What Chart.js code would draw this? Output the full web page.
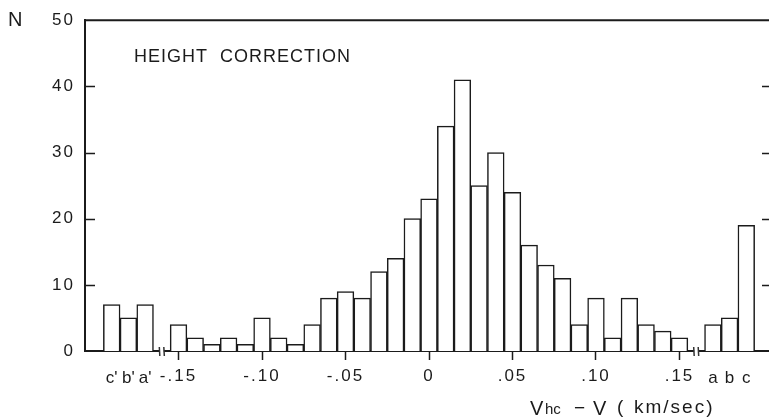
<!DOCTYPE html>
<html>
<head>
<meta charset="utf-8">
<script src="https://cdn.jsdelivr.net/npm/chart.js@4.4.1/dist/chart.umd.min.js"></script>
<style>
  html, body { margin: 0; padding: 0; background: #fff; overflow: hidden; }
</style>
</head>
<body>
<canvas id="chart" width="769" height="420"></canvas>
<script>
// Main histogram: bin centres in km/sec and counts
const binCenters = [-0.15, -0.14, -0.13, -0.12, -0.11, -0.10, -0.09, -0.08, -0.07, -0.06,
  -0.05, -0.04, -0.03, -0.02, -0.01, 0, 0.01, 0.02, 0.03, 0.04,
  0.05, 0.06, 0.07, 0.08, 0.09, 0.10, 0.11, 0.12, 0.13, 0.14, 0.15];
const binCounts = [4, 2, 1, 2, 1, 5, 2, 1, 4, 8,
  9, 8, 12, 14, 20, 23, 34, 41, 25, 30,
  24, 16, 13, 11, 4, 8, 2, 8, 4, 3, 2];

// Off-scale classes beyond the axis breaks
const lowGroupLabels = ["c'", "b'", "a'"];
const lowGroupPositions = [-0.19, -0.18, -0.17];
const lowGroupCounts = [7, 5, 7];
const highGroupLabels = ["a", "b", "c"];
const highGroupPositions = [0.17, 0.18, 0.19];
const highGroupCounts = [4, 5, 19];

const xTickValues = [-0.15, -0.10, -0.05, 0, 0.05, 0.10, 0.15];
const xTickLabels = ["-.15", "-.10", "-.05", "0", ".05", ".10", ".15"];
const yTickValues = [0, 10, 20, 30, 40, 50];

const ink = "#1b1b1b";
const fontFamily = '"Liberation Sans", Arial, sans-serif';

function toPoints(xs, ys) {
  return xs.map((x, i) => ({ x: x, y: ys[i] }));
}

const barData = [
  ...toPoints(lowGroupPositions, lowGroupCounts),
  ...toPoints(binCenters, binCounts),
  ...toPoints(highGroupPositions, highGroupCounts),
];

// Frame, inner ticks, axis breaks and free text
const decorations = {
  id: "decorations",
  beforeDraw(chart) {
    chart.ctx.letterSpacing = "2px";
  },
  afterDraw(chart) {
    const { ctx, chartArea, scales } = chart;
    const x = scales.x;
    const y = scales.y;
    ctx.save();
    ctx.strokeStyle = ink;
    ctx.fillStyle = ink;

    // top edge of the frame
    ctx.lineWidth = 2;
    ctx.beginPath();
    ctx.moveTo(chartArea.left, chartArea.top);
    ctx.lineTo(chartArea.right, chartArea.top);
    ctx.stroke();

    // ticks pointing into the plot on both sides
    ctx.lineWidth = 1.5;
    yTickValues.forEach(v => {
      if (v === y.min || v === y.max) return;
      const py = Math.round(y.getPixelForValue(v)) + 0.5;
      ctx.beginPath();
      ctx.moveTo(chartArea.left, py);
      ctx.lineTo(chartArea.left + 10, py);
      ctx.moveTo(chartArea.right, py);
      ctx.lineTo(chartArea.right - 7, py);
      ctx.stroke();
    });

    // axis breaks between the main bins and the lettered classes
    const base = y.getPixelForValue(0);
    const breaks = [
      (lowGroupPositions[lowGroupPositions.length - 1] + binCenters[0]) / 2,
      (binCenters[binCenters.length - 1] + highGroupPositions[0]) / 2,
    ];
    breaks.forEach(v => {
      const px = x.getPixelForValue(v);
      ctx.fillStyle = "#fff";
      ctx.fillRect(px - 2, base - 2, 4, 4);
      ctx.strokeStyle = "#333";
      ctx.lineWidth = 1.5;
      ctx.beginPath();
      ctx.moveTo(px - 2.5, base - 4);
      ctx.lineTo(px - 2, base + 5);
      ctx.moveTo(px + 2, base - 4);
      ctx.lineTo(px + 2.5, base + 5);
      ctx.stroke();
    });

    // class letters under the off-scale bars
    ctx.fillStyle = ink;
    ctx.letterSpacing = "0px";
    ctx.font = "17px " + fontFamily;
    ctx.textAlign = "center";
    ctx.textBaseline = "alphabetic";
    lowGroupLabels.forEach((l, i) => {
      ctx.fillText(l, x.getPixelForValue(lowGroupPositions[i]), 383);
    });
    highGroupLabels.forEach((l, i) => {
      ctx.fillText(l, x.getPixelForValue(highGroupPositions[i]), 383);
    });

    // y axis name
    ctx.textAlign = "left";
    ctx.font = "20px " + fontFamily;
    ctx.fillText("N", 8, 26);

    // panel title
    ctx.letterSpacing = "1px";
    ctx.font = "18px " + fontFamily;
    ctx.fillText("HEIGHT  CORRECTION", 134, 62);

    // x axis name with subscript
    ctx.font = "20px " + fontFamily;
    ctx.letterSpacing = "0px";
    ctx.fillText("V", 530, 415);
    ctx.font = "15px " + fontFamily;
    ctx.fillText("hc", 545, 414);
    ctx.font = "19px " + fontFamily;
    ctx.fillText("\u2212", 574, 414);
    ctx.font = "20px " + fontFamily;
    ctx.fillText("V", 593, 415);
    ctx.font = "19px " + fontFamily;
    ctx.fillText("(", 617, 413);
    ctx.letterSpacing = "2px";
    ctx.fillText("km/sec)", 634, 413);
    ctx.restore();
  },
};

new Chart(document.getElementById("chart"), {
  type: "bar",
  data: {
    datasets: [{
      data: barData,
      backgroundColor: "#fff",
      borderColor: ink,
      borderWidth: 1.5,
      borderSkipped: "bottom",
      categoryPercentage: 1,
      barPercentage: 1,
    }],
  },
  options: {
    responsive: false,
    animation: false,
    layout: { padding: { top: 14, left: 0, right: 0, bottom: 0 } },
    plugins: {
      legend: { display: false },
      tooltip: { enabled: false },
    },
    scales: {
      x: {
        type: "linear",
        offset: false,
        min: -0.206,
        max: 0.2036,
        afterBuildTicks: scale => {
          scale.ticks = xTickValues.map(v => ({ value: v }));
        },
        afterFit: scale => { scale.height = 69; },
        ticks: {
          autoSkip: false,
          maxRotation: 0,
          padding: 6,
          color: ink,
          font: { family: fontFamily, size: 17 },
          callback: v => xTickLabels[xTickValues.indexOf(v)],
        },
        grid: {
          offset: false,
          drawOnChartArea: false,
          tickLength: 9,
          tickColor: ink,
          tickWidth: 1.5,
        },
        border: { display: true, color: ink, width: 2 },
      },
      y: {
        min: 0,
        max: 50,
        afterBuildTicks: scale => {
          scale.ticks = yTickValues.map(v => ({ value: v }));
        },
        afterFit: scale => { scale.width = 85; },
        ticks: {
          padding: 10,
          color: ink,
          font: { family: fontFamily, size: 17 },
          callback: v => String(v),
        },
        grid: { display: false, drawTicks: false },
        border: { display: true, color: ink, width: 2 },
      },
    },
  },
  plugins: [decorations],
});
</script>
</body>
</html>
